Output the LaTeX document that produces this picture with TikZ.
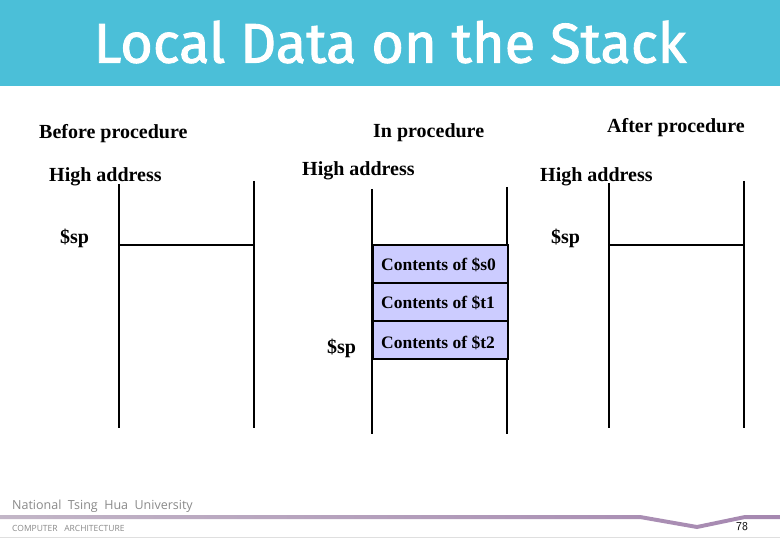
\documentclass[tikz,border=0pt]{standalone}
\usepackage{fontspec}
\setmainfont{Liberation Serif}
\newfontfamily\titlefont[FakeBold=1.6]{Fira Sans}
\newfontfamily\footfont{Open Sans}
\definecolor{banner}{HTML}{4BBFD8}
\definecolor{cellfill}{HTML}{CCCCFF}
\definecolor{barpurple}{HTML}{A587B0}
\definecolor{footgray}{HTML}{8A8A8A}
\begin{document}
\begin{tikzpicture}[x=1pt,y=-1pt,
  lbl/.style={font=\fontsize{20}{20}\selectfont\bfseries, inner sep=0pt, anchor=west},
  wall/.style={line width=2pt, black},
  spline/.style={line width=2pt, black},
  cell/.style={draw=black, line width=2pt, fill=cellfill, minimum width=135pt, minimum height=38pt, inner sep=0pt, anchor=north west},
  celltext/.style={font=\fontsize{17.5}{17.5}\selectfont\bfseries, inner sep=0pt, anchor=west},
]
\useasboundingbox (0,0) rectangle (780,540);
\fill[white] (0,0) rectangle (780,540);
% banner
\fill[banner] (0,0) rectangle (780,86);
\node[text=white, font=\titlefont\fontsize{56}{56}\selectfont, inner sep=0pt] (title) at (390,42) {Local Data on the Stack};

% headings
\node[lbl] (before) at (39,134) {Before procedure};
\node[lbl] (inproc) at (373,133) {In procedure};
\node[lbl] (after) at (607,128) {After procedure};
\node[lbl] (hi1) at (49,177) {High address};
\node[lbl] (hi2) at (302,171) {High address};
\node[lbl] (hi3) at (540,177) {High address};
\node[lbl] (sp1) at (60,238) {\$sp};
\node[lbl] (sp3) at (551,238) {\$sp};
\node[lbl] (sp2) at (327,348) {\$sp};

% left stack
\draw[wall] (119,184) -- (119,428);
\draw[wall] (254,181) -- (254,428);
\draw[spline] (118,245) -- (255,245);

% middle stack
\draw[wall] (372,189) -- (372,434);
\draw[wall] (507,187) -- (507,434);
\node[cell] (c1) at (372,244) {};
\node[cell] (c2) at (372,282) {};
\node[cell] (c3) at (372,320) {};
\node[celltext] (t1) at (381,265) {Contents of \$s0};
\node[celltext] (t2) at (381,303) {Contents of \$t1};
\node[celltext] (t3) at (381,343) {Contents of \$t2};

% right stack
\draw[wall] (609,183) -- (609,428);
\draw[wall] (744,181) -- (744,428);
\draw[spline] (608,245) -- (745,245);

% footer
\node[text=footgray, font=\footfont\fontsize{12.5}{12.5}\selectfont, inner sep=0pt, anchor=west] (nthu) at (12,506) {National\ \ Tsing\ \ Hua\ \ University};
\shade[left color=barpurple!70!gray!60, right color=barpurple] (0,515) -- (640,515) -- (697,525) -- (745,515) -- (780,515) -- (780,519) -- (745,519) -- (697,529) -- (640,519) -- (0,519) -- cycle;
\node[text=footgray, font=\footfont\fontsize{8.5}{8.5}\selectfont, inner sep=0pt, anchor=west] (ca) at (12,528) {COMPUTER\ \ \ ARCHITECTURE};
\node[font=\sffamily\fontsize{12}{12}\selectfont, inner sep=0pt, anchor=west] (pg) at (736,527) {78};
\draw[gray!25, line width=1pt] (0,537) -- (780,537);
\end{tikzpicture}
\end{document}
